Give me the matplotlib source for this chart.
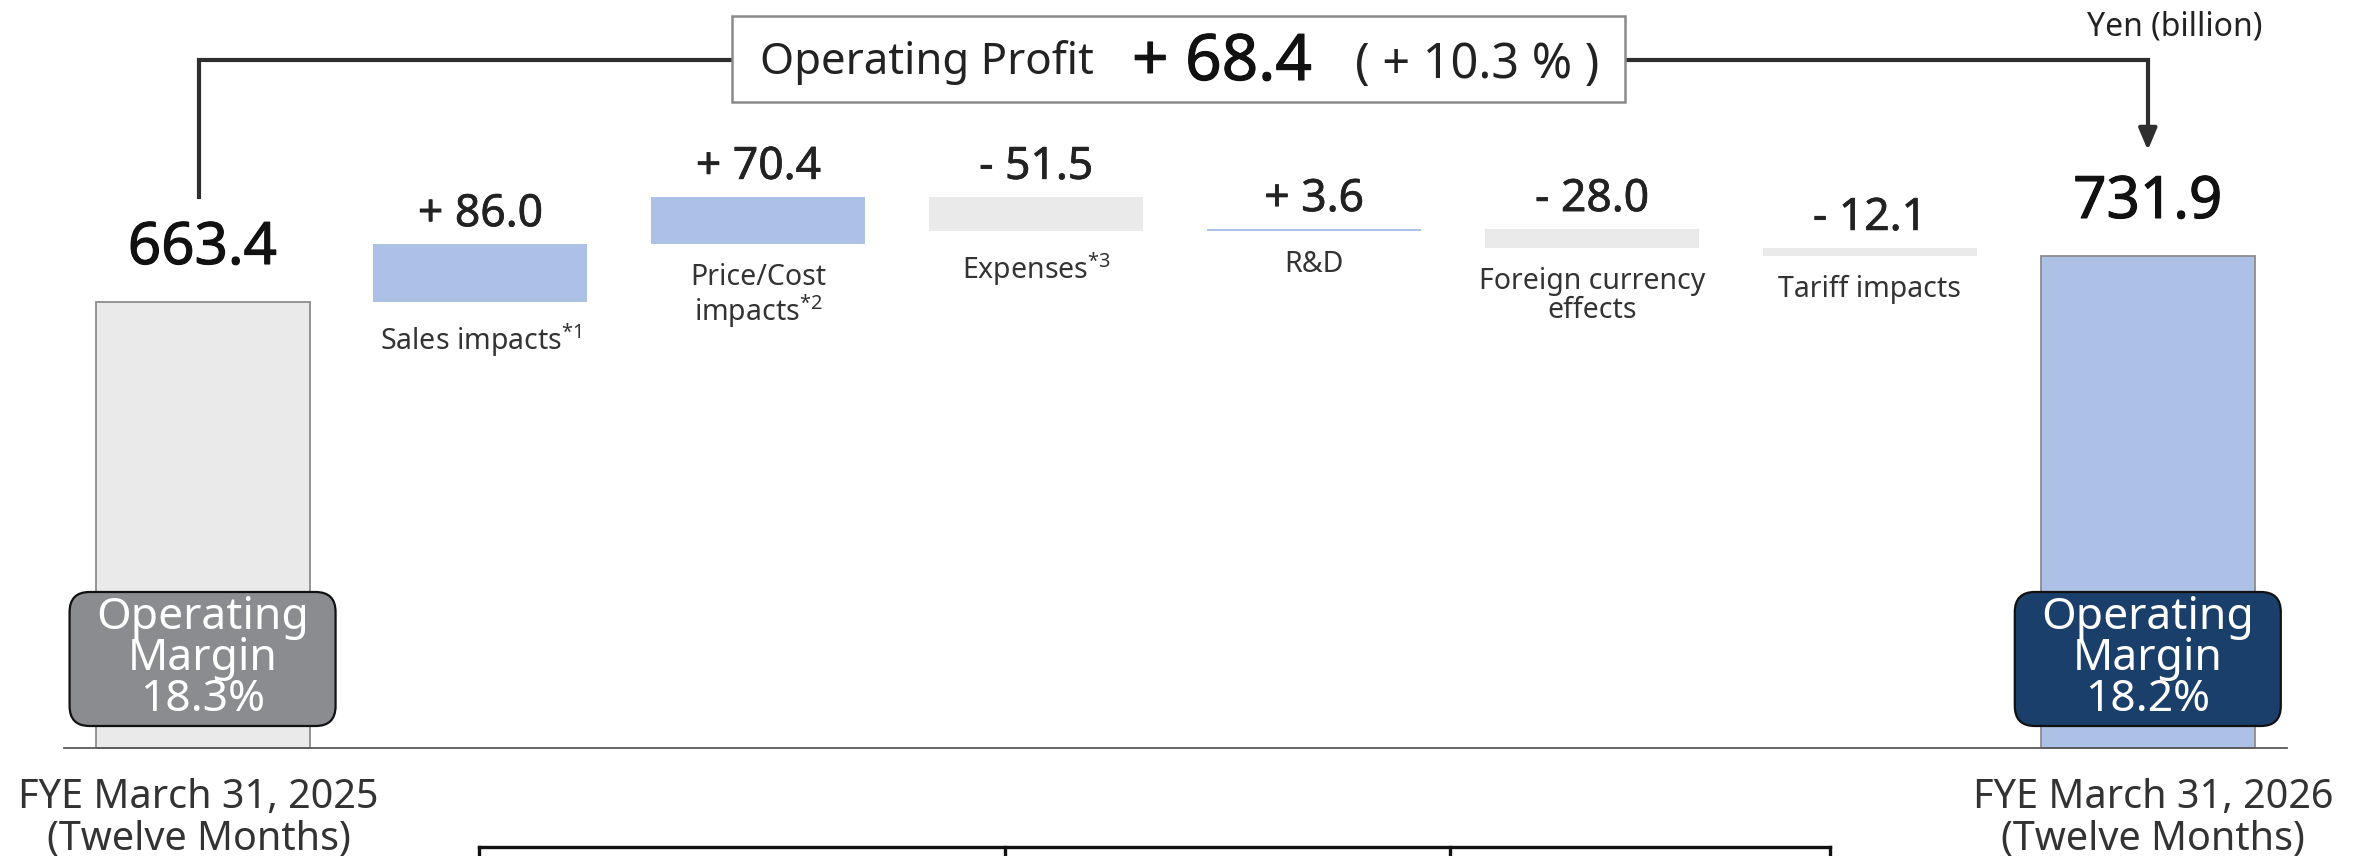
import numpy as np
import matplotlib
matplotlib.use("Agg")
import matplotlib.pyplot as plt
from matplotlib.patches import FancyBboxPatch, Rectangle
import matplotlib.patheffects as pe

plt.rcParams['font.family'] = ['Noto Sans', 'DejaVu Sans']
plt.rcParams['mathtext.fontset'] = 'custom'
plt.rcParams['mathtext.rm'] = 'Noto Sans'
plt.rcParams['mathtext.default'] = 'regular'

# ---------------- data ----------------
start_label = "FYE March 31, 2025\n(Twelve Months)"
end_label = "FYE March 31, 2026\n(Twelve Months)"
start_value = 663.4
end_value = 731.9
step_labels = ["Sales impacts$^{*1}$", "Price/Cost\nimpacts$^{*2}$", "Expenses$^{*3}$",
               "R&D", "Foreign currency\neffects", "Tariff impacts"]
step_values = [86.0, 70.4, -51.5, 3.6, -28.0, -12.1]
margin_values = ["18.3%", "18.2%"]
total_change = 68.4
total_change_pct = 10.3
unit_label = "Yen (billion)"

# ---------------- layout ----------------
W, H = 2369, 856
fig = plt.figure(figsize=(W / 100, H / 100), dpi=100)
ax = fig.add_axes([0, 0, 1, 1])
ax.set_xlim(-0.729, 7.796)
ax.set_ylim(-160.6, 1112.6)
ax.axis('off')
ov = fig.add_axes([0, 0, 1, 1], zorder=5)
ov.set_xlim(0, W)
ov.set_ylim(H, 0)
ov.axis('off')
ov.patch.set_alpha(0)

BLUE = '#ADC0E6'
GREY = '#EAEAEA'
bw = 0.77

def heavy(c, w):
    return [pe.withStroke(linewidth=w, foreground=c)]

n = len(step_values)
cum = start_value + np.cumsum(step_values)
prev = np.concatenate([[start_value], cum[:-1]])
bottoms = np.minimum(prev, cum)
tops = np.maximum(prev, cum)
heights = np.abs(step_values)
xs = np.arange(1, n + 1)
colors = [BLUE if v > 0 else GREY for v in step_values]

# totals
ax.bar(0, start_value, width=bw, color=GREY, edgecolor='#8c8c8c', linewidth=1.3, zorder=2)
ax.bar(n + 1, end_value, width=bw, color=BLUE, edgecolor='#8c8c8c', linewidth=1.3, zorder=2)
# steps
ax.bar(xs, heights, bottom=bottoms, width=bw, color=colors, linewidth=0, zorder=2)
ax.plot([-0.5, n + 1.5], [0, 0], color='#5a5a5a', lw=1.3, zorder=3)

# value labels
for xi, v, t in zip(xs, step_values, tops):
    s = f"{'+' if v > 0 else '-'} {abs(v):.1f}"
    ax.annotate(s, (xi, t), xytext=(0, 18), textcoords='offset pixels',
                ha='center', va='baseline', fontsize=32, color='#222222',
                path_effects=heavy('#222222', 0.5))
for xi, t in [(0, start_value), (n + 1, end_value)]:
    ax.annotate(f"{t:.1f}", (xi, t), xytext=(0, 38), textcoords='offset pixels',
                ha='center', va='baseline', fontsize=42, color='#111111',
                path_effects=heavy('#111111', 0.8))

# category labels
for xi, lab, b in zip(xs, step_labels, bottoms):
    ax.annotate(lab, (xi, b), xytext=(0, -19), textcoords='offset pixels',
                ha='center', va='top', fontsize=20.5, color='#333333', linespacing=1.02)

def px(xd):
    return ax.transData.transform((xd, 0))[0]

for xi, lab, dx in [(0, start_label, -4), (n + 1, end_label, 5)]:
    ov.text(px(xi) + dx, 778, lab, ha='center', va='top', fontsize=28.5,
            color='#333333', linespacing=1.08)

# operating margin boxes
for xi, mv, fc in [(0, margin_values[0], '#8B8C90'), (n + 1, margin_values[1], '#1B3F6B')]:
    cx = px(xi)
    box = FancyBboxPatch((cx - 133, 592), 266, 134,
                         boxstyle="round,pad=0,rounding_size=20",
                         facecolor=fc, edgecolor='#111111', linewidth=1.6, zorder=6)
    ov.add_patch(box)
    ov.text(cx, 659, "Operating\nMargin\n" + mv, ha='center', va='center',
            fontsize=32, color='white', linespacing=0.91, zorder=7)

# header bracket
x0, x1 = px(0), px(n + 1)
lc = '#2e2e2e'
ov.plot([x0 - 4, x0 - 4, 732], [197, 60, 60], color=lc, lw=3.0, solid_joinstyle='miter', zorder=4)
ov.plot([1625, x1, x1], [60, 60, 140], color=lc, lw=3.0, solid_joinstyle='miter', zorder=4)
ov.annotate('', xy=(x1, 153), xytext=(x1, 130),
            arrowprops=dict(arrowstyle='-|>,head_length=1.3,head_width=0.55',
                            color=lc, lw=3.0), zorder=4)
ov.add_patch(Rectangle((732, 16), 893, 86, facecolor='white', edgecolor='#8a8a8a',
                       linewidth=1.8, zorder=5))
ov.text(760, 74, "Operating Profit", ha='left', va='baseline', fontsize=31.5, color='#222222', zorder=7)
ov.text(1132, 80, f"+ {total_change:.1f}", ha='left', va='baseline', fontsize=46,
        color='#111111', zorder=7, path_effects=heavy('#111111', 0.8))
ov.text(1355, 78, f"( + {total_change_pct:.1f} % )", ha='left', va='baseline', fontsize=35,
        color='#222222', zorder=7)

ov.text(2262, 35, unit_label, ha='right', va='baseline', fontsize=23, color='#222222')

# bottom table edge (cut off)
tl = '#111111'
ov.plot([479, 1830], [847, 847], color=tl, lw=2.4)
for xv in [479, 1005, 1450, 1830]:
    ov.plot([xv, xv], [847, 860], color=tl, lw=2.4)

fig.savefig("out.png", dpi=100)
